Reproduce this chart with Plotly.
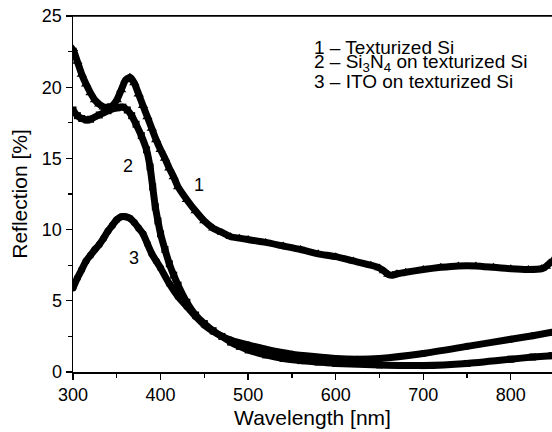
import plotly.graph_objects as go

# Wavelength [nm] and reflection [%]
wl1 = [300, 305, 310, 315, 320, 325, 330, 335, 340, 345, 350, 355, 360, 365, 370, 375, 380, 385, 390, 395,
       400, 405, 410, 415, 420, 430, 440, 450, 460, 470, 480, 490, 500, 520, 540, 560, 580, 600, 620, 640,
       650, 655, 660, 665, 670, 680, 700, 720, 740, 760, 780, 800, 820, 835, 840, 847]
r1 = [22.7, 21.8, 20.9, 20.2, 19.6, 19.1, 18.8, 18.6, 18.6, 18.7, 19.1, 19.8, 20.5, 20.7, 20.3, 19.5, 18.7,
      17.9, 17.1, 16.3, 15.6, 15.0, 14.3, 13.7, 13.0, 12.1, 11.3, 10.6, 10.1, 9.8, 9.5, 9.4, 9.3, 9.1, 8.85,
      8.6, 8.3, 8.1, 7.8, 7.5, 7.3, 7.1, 6.85, 6.8, 6.9, 7.0, 7.2, 7.35, 7.45, 7.45, 7.35, 7.25, 7.2, 7.25,
      7.4, 7.8]

wl2 = [300, 305, 310, 316, 320, 330, 340, 350, 357, 362, 367, 372, 378, 384, 388, 391, 394, 397, 400, 405,
       410, 415, 420, 430, 440, 450, 460, 470, 480, 490, 500, 520, 540, 560, 580, 600, 650, 700, 750, 800,
       825, 847]
r2 = [18.4, 18.0, 17.8, 17.7, 17.75, 18.05, 18.35, 18.55, 18.6, 18.4, 18.0, 17.4, 16.6, 15.6, 14.4, 13.0,
      11.6, 10.6, 9.7, 8.6, 7.6, 6.8, 6.1, 4.9, 4.0, 3.4, 2.9, 2.5, 2.1, 1.8, 1.55, 1.2, 0.95, 0.8, 0.7, 0.6,
      0.5, 0.45, 0.6, 0.9, 1.05, 1.15]

wl3 = [300, 305, 310, 315, 320, 325, 330, 335, 340, 345, 350, 355, 360, 365, 370, 375, 380, 385, 390, 395,
       400, 410, 420, 430, 440, 450, 460, 470, 480, 500, 520, 550, 600, 625, 650, 700, 750, 800, 825, 847]
r3 = [5.9, 6.6, 7.2, 7.8, 8.2, 8.6, 8.95, 9.4, 9.9, 10.3, 10.7, 10.9, 10.9, 10.8, 10.5, 10.1, 9.7, 9.0, 8.3,
      7.8, 7.3, 6.2, 5.3, 4.6, 3.9, 3.3, 2.85, 2.5, 2.25, 1.9, 1.6, 1.25, 0.95, 0.9, 0.95, 1.3, 1.8, 2.3,
      2.55, 2.8]

series = [
    (wl1, r1, "triangle-up", 9),
    (wl2, r2, "square", 7),
    (wl3, r3, "circle", 7),
]

legend_lines = ["1 – Texturized Si", "2 – Si<sub>3</sub>N<sub>4</sub> on texturized Si", "3 – ITO on texturized Si"]
legend_y = [0.912, 0.868, 0.815]
curve_labels = [("1", 444, 13.1), ("2", 363, 14.5), ("3", 370, 8.0)]

FONT = "Liberation Sans, Arial, sans-serif"

fig = go.Figure()
for x, y, sym, ms in series:
    fig.add_trace(go.Scatter(
        x=x, y=y, mode="lines+markers",
        line=dict(color="black", width=7, shape="spline", smoothing=0.5),
        marker=dict(symbol=sym, size=ms, color="black"),
        showlegend=False, hoverinfo="skip", cliponaxis=True))

for txt, xv, yv in curve_labels:
    fig.add_annotation(x=xv, y=yv, text=txt, showarrow=False,
                       font=dict(size=18, color="black", family=FONT))

for t, yv in zip(legend_lines, legend_y):
    fig.add_annotation(xref="paper", yref="paper", x=0.499, y=yv,
                       xanchor="left", yanchor="middle", text=t, showarrow=False,
                       font=dict(size=19, color="black", family=FONT))

# top frame line at y = 25
fig.add_shape(type="line", xref="paper", yref="y", x0=0, x1=1, y0=25, y1=25,
              line=dict(color="black", width=1.5), layer="above")

fig.update_layout(
    width=552, height=432,
    margin=dict(l=73, r=0, t=16, b=60),
    paper_bgcolor="white", plot_bgcolor="white",
    font=dict(family=FONT, size=18, color="black"),
    xaxis=dict(
        range=[300, 847], tickvals=[300, 400, 500, 600, 700, 800],
        ticks="outside", ticklen=6, tickwidth=1.3, tickcolor="black",
        minor=dict(dtick=50, tick0=300, ticks="outside", ticklen=4, tickcolor="black", tickwidth=1.3),
        showline=True, linecolor="black", linewidth=1.5, mirror=True,
        showgrid=False, zeroline=False, ticklabeloverflow="allow",
        title=dict(text="Wavelength [nm]", font=dict(size=21), standoff=6),
        tickfont=dict(size=18)),
    yaxis=dict(
        range=[0, 25], tickvals=[0, 5, 10, 15, 20, 25],
        ticks="outside", ticklen=6, tickwidth=1.3, tickcolor="black",
        minor=dict(dtick=2.5, tick0=0, ticks="outside", ticklen=4, tickcolor="black", tickwidth=1.3),
        showline=True, linecolor="black", linewidth=1.5,
        showgrid=False, zeroline=False, ticklabeloverflow="allow",
        title=dict(text="Reflection [%]", font=dict(size=21), standoff=8),
        tickfont=dict(size=18)),
)

# remove the page's default body margin so the 552x432 figure fills the window exactly
fig.write_html("out.html",
               config={"displayModeBar": False, "staticPlot": True},
               post_script="document.body.style.margin='0';document.body.style.overflow='hidden';")
